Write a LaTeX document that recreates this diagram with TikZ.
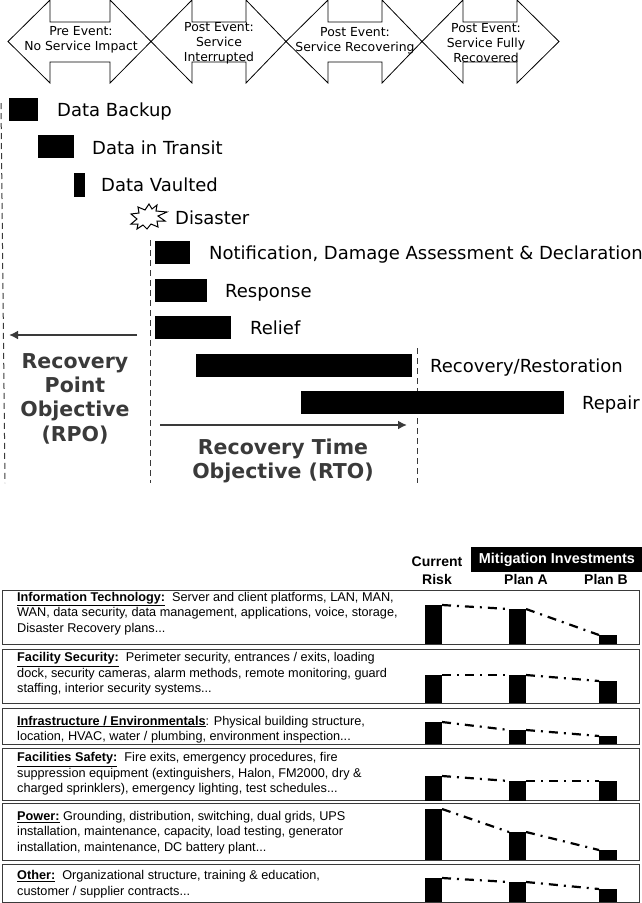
\documentclass[tikz,border=0pt]{standalone}
\usepackage{fontspec}
\setmainfont{Liberation Sans}
\newfontfamily\dv{DejaVu Sans}
\definecolor{objgray}{HTML}{3A3A3A}
\newcommand{\evarrow}[5]{% x0 x1 x2 x3 name
  \draw[line width=0.8pt,fill=white] (#1,41.5) -- (#2,0) -- (#2,22) -- (#3,22) -- (#3,0) -- (#4,41.5) -- (#3,83) -- (#3,62) -- (#2,62) -- (#2,83) -- cycle;
}
\newcommand{\tbar}[5]{\node[barbox,minimum width=#3pt-#1pt,minimum height=#4pt-#2pt,anchor=north west] (#5) at (#1,#2) {};}
\newcommand{\head}[1]{\textbf{\underline{#1}}}
\usetikzlibrary{arrows.meta}
\tikzset{
  evtext/.style={font=\dv\fontsize{12.4}{15}\selectfont,align=center,inner sep=0pt},
  barbox/.style={fill=black,draw=none,inner sep=0pt,outer sep=0pt},
  tasktext/.style={font=\dv\fontsize{18}{20}\selectfont,anchor=west,inner sep=0pt,text height=13pt,text depth=0pt},
  objtext/.style={font=\dv\bfseries\fontsize{20.5}{24.3}\selectfont,text=objgray,align=center,inner sep=0pt},
  objarrow/.style={draw=objgray,line width=2.5pt,-{Latex[length=9pt,width=9pt]}},
  vdash/.style={draw=objgray,line width=1pt,dash pattern=on 6pt off 4pt},
  riskbox/.style={draw=objgray,line width=1pt,fill=white,inner sep=0pt,outer sep=0pt,anchor=north west},
  risktext/.style={font=\fontsize{12.7}{15.5}\selectfont,align=left,anchor=west,inner sep=0pt},
  colhead/.style={font=\bfseries\fontsize{14}{18}\selectfont,align=center,inner sep=0pt},
  trend/.style={line width=2.2pt,dash pattern=on 9pt off 6pt on 2pt off 6pt},
}
\begin{document}
\begin{tikzpicture}[x=1pt,y=-1pt]
\useasboundingbox (0,0) rectangle (642,903);
% event arrows
\evarrow{8}{50}{110}{151}{}
\evarrow{151}{192}{246}{286}{}
\evarrow{286}{328}{382}{422}{}
\evarrow{422}{463}{517}{559}{}
\node[evtext] (e1) at (81,39.5) {Pre Event:\\No Service Impact};
\node[evtext] (e2) at (219,43) {Post Event:\\Service\\Interrupted};
\node[evtext] (e3) at (355,41) {Post Event:\\Service Recovering};
\node[evtext] (e4) at (486,43) {Post Event:\\Service Fully\\Recovered};
% dashed lines
\coordinate (la) at (1,103); \coordinate (lb) at (5,483);
\coordinate (ma) at (150,240); \coordinate (mb) at (150,483);
\coordinate (ra) at (417,348); \coordinate (rb) at (417,483);
\draw[vdash] (la) -- (lb);
\draw[vdash] (ma) -- (mb);
\draw[vdash] (ra) -- (rb);
% task bars
\tbar{9}{98}{38}{121}{b1}
\tbar{38}{135}{74}{158}{b2}
\tbar{74}{173}{85}{197}{b3}
\tbar{155}{241}{190}{264}{b4}
\tbar{155}{279}{207}{302}{b5}
\tbar{155}{316}{231}{339}{b6}
\tbar{196}{354}{412}{377}{b7}
\tbar{301}{391}{564}{414}{b8}
\node[tasktext] (t1) at (57,110) {Data Backup};
\node[tasktext] (t2) at (92,148) {Data in Transit};
\node[tasktext] (t3) at (101,185) {Data Vaulted};
\node[tasktext] (t4) at (175,218) {Disaster};
\node[tasktext] (t5) at (209,253) {Notification, Damage Assessment \& Declaration};
\node[tasktext] (t6) at (225,291) {Response};
\node[tasktext] (t7) at (250,328) {Relief};
\node[tasktext] (t8) at (430,366) {Recovery/Restoration};
\node[tasktext] (t9) at (582,403) {Repair};
% disaster burst
\draw[line width=1pt,fill=white] (131,224) -- (137,219) -- (131,214) -- (139,213) -- (138,207) -- (145,210) -- (149,204) -- (152,209) -- (157,205) -- (156,211) -- (167,212) -- (158,216) -- (165,221) -- (157,221) -- (158,227) -- (151,224) -- (147,229) -- (143,225) -- (137,229) -- (138,224) -- cycle;
% objective arrows
\coordinate (rpoa) at (137,335); \coordinate (rpob) at (9,335);
\coordinate (rtoa) at (160,425); \coordinate (rtob) at (407,425);
\draw[objarrow] (rpoa) -- (rpob);
\draw[objarrow] (rtoa) -- (rtob);
\node[objtext] (rpo) at (75,398.5) {Recovery\\Point\\Objective\\(RPO)};
\node[objtext] (rto) at (283,461) {Recovery Time\\Objective (RTO)};
% table header
\node[fill=black,inner sep=0pt,outer sep=0pt,minimum width=171pt,minimum height=25pt,anchor=north west] (mit) at (471,547) {};
\node[colhead,text=white,font=\bfseries\fontsize{14.4}{18}\selectfont] (mitt) at (557,560) {Mitigation Investments};
\node[colhead] (cur) at (437,571) {Current\\Risk};
\node[colhead] (pa) at (526,579.5) {Plan A};
\node[colhead] (pb) at (606,579.5) {Plan B};
% risk boxes
\node[riskbox,minimum width=637pt,minimum height=54pt] (r1) at (2,590) {};
\node[riskbox,minimum width=637pt,minimum height=54pt] (r2) at (2,649) {};
\node[riskbox,minimum width=637pt,minimum height=36pt] (r3) at (2,708) {};
\node[riskbox,minimum width=637pt,minimum height=52pt] (r4) at (2,748) {};
\node[riskbox,minimum width=637pt,minimum height=57pt] (r5) at (2,803) {};
\node[riskbox,minimum width=637pt,minimum height=38pt] (r6) at (2,864) {};
\node[risktext] (x1) at (17,613.5) {\head{Information Technology:}\ \ Server and client platforms, LAN, MAN,\\WAN, data security, data management, applications, voice, storage,\\Disaster Recovery plans...};
\node[risktext] (x2) at (17,674) {\head{Facility Security:}\ \ Perimeter security, entrances / exits, loading\\dock, security cameras, alarm methods, remote monitoring, guard\\staffing, interior security systems...};
\node[risktext] (x3) at (17,729.5) {\head{Infrastructure / Environmentals}: Physical building structure,\\location, HVAC, water / plumbing, environment inspection...};
\node[risktext] (x4) at (17,774) {\head{Facilities Safety:}\ \ Fire exits, emergency procedures, fire\\suppression equipment (extinguishers, Halon, FM2000, dry \&\\charged sprinklers), emergency lighting, test schedules...};
\node[risktext] (x5) at (17,832.5) {\head{Power:} Grounding, distribution, switching, dual grids, UPS\\installation, maintenance, capacity, load testing, generator\\installation, maintenance, DC battery plant...};
\node[risktext] (x6) at (17,884) {\head{Other:}\ \ Organizational structure, training \& education,\\customer / supplier contracts...};
% risk bars
\tbar{425}{605}{442}{644}{a1}\tbar{509}{609}{526}{644}{a2}\tbar{599}{635}{617}{644}{a3}
\tbar{425}{675}{442}{703}{c1}\tbar{509}{675}{526}{703}{c2}\tbar{599}{681}{617}{703}{c3}
\tbar{425}{722}{442}{744}{d1}\tbar{509}{730}{526}{744}{d2}\tbar{599}{736}{617}{744}{d3}
\tbar{425}{776}{442}{801}{f1}\tbar{509}{781}{526}{801}{f2}\tbar{599}{781}{617}{801}{f3}
\tbar{425}{809}{442}{860}{g1}\tbar{509}{832}{526}{860}{g2}\tbar{599}{850}{617}{860}{g3}
\tbar{425}{878}{442}{902}{h1}\tbar{509}{882}{526}{902}{h2}\tbar{599}{889}{617}{902}{h3}
% trend lines
\foreach \p in {a,c,d,f,g,h}{
  \draw[trend] (\p1.north east) -- (\p2.north west);
  \draw[trend] (\p2.north east) -- (\p3.north west);
}
\end{tikzpicture}
\end{document}
